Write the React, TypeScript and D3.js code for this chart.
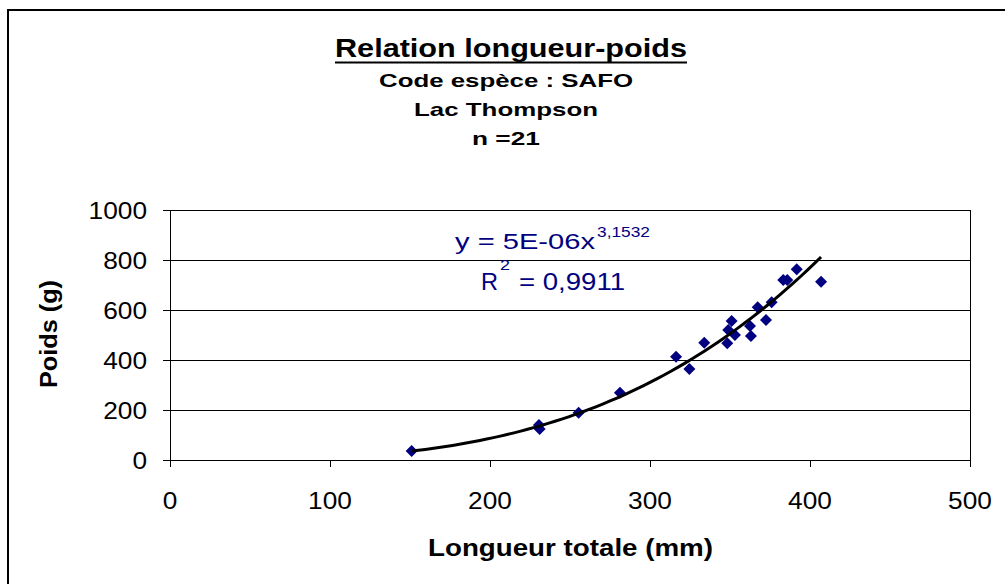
import React from "react";
import * as d3 from "d3";

const lengths = [151, 230.6, 231, 255.4, 281.2, 316.3, 324.6, 333.9, 348.3, 348.9, 351, 353.1, 362.5, 363.1, 367.3, 372.5, 376, 383.3, 385.8, 391.7, 406.9];
const weights = [36, 140, 124, 189, 269, 413, 364, 469, 467, 520, 556, 500, 536, 496, 611, 560, 631, 720, 720, 763, 713];
const xTicks = [0, 100, 200, 300, 400, 500];
const yTicks = [0, 200, 400, 600, 800, 1000];
const trendCoef = 4.8e-6;
const trendExp = 3.1532;
const titleText = "Relation longueur-poids";
const subtitles = ["Code espèce : SAFO", "Lac Thompson", "n =21"];
const xTitle = "Longueur totale (mm)";
const yTitle = "Poids (g)";
const eqMain = "y = 5E-06x";
const eqExp = "3,1532";
const r2Sup = "2";
const r2Rest = "= 0,9911";

const FONT = "'Liberation Sans', Arial, sans-serif";
const NAVY = "#000080";

export default function App() {
  const x = d3.scaleLinear().domain([0, 500]).range([170, 970]);
  const y = d3.scaleLinear().domain([0, 1000]).range([460, 210]);

  const xmin = d3.min(lengths) as number;
  const xmax = d3.max(lengths) as number;
  const trendXs = d3.range(0, 61).map((i) => xmin + ((xmax - xmin) * i) / 60);
  const line = d3
    .line<number>()
    .x((d) => x(d))
    .y((d) => y(trendCoef * Math.pow(d, trendExp)))
    .curve(d3.curveLinear);
  const diamond = d3.symbol().type(d3.symbolSquare).size(72)() as string;

  const subW = [254, 184, 68];
  const subBase = [87, 116, 144.5];

  return (
    <svg
      width={1005}
      height={584}
      style={{ position: "absolute", left: 0, top: 0, background: "#fff" }}
      fontFamily={FONT}
    >
      <rect x={0} y={0} width={1005} height={584} fill="#fff" />
      <rect x={8} y={10} width={1010} height={600} fill="none" stroke="#000" strokeWidth={2} />

      {/* title */}
      <text x={511} y={57} textAnchor="middle" fontSize={26} fontWeight="bold" textLength={352} lengthAdjust="spacingAndGlyphs">
        {titleText}
      </text>
      <line x1={335} x2={687} y1={62.5} y2={62.5} stroke="#000" strokeWidth={2} />
      {subtitles.map((s, i) => (
        <text key={s} x={506} y={subBase[i]} textAnchor="middle" fontSize={19} fontWeight="bold" textLength={subW[i]} lengthAdjust="spacingAndGlyphs">
          {s}
        </text>
      ))}

      {/* gridlines */}
      {yTicks.filter((t) => t > 0).map((t) => (
        <line key={t} x1={x(0)} x2={x(500)} y1={Math.round(y(t)) + 0.5} y2={Math.round(y(t)) + 0.5} stroke="#000" strokeWidth={1} />
      ))}
      {/* right border */}
      <line x1={x(500) + 0.5} x2={x(500) + 0.5} y1={y(1000)} y2={y(0)} stroke="#000" strokeWidth={1} />
      {/* axes */}
      <line x1={x(0) + 0.5} x2={x(0) + 0.5} y1={y(1000)} y2={y(0)} stroke="#000" strokeWidth={1} />
      <line x1={x(0)} x2={x(500) + 1} y1={y(0) + 0.5} y2={y(0) + 0.5} stroke="#000" strokeWidth={1} />
      {yTicks.map((t) => (
        <g key={t}>
          <line x1={x(0) - 7} x2={x(0)} y1={Math.round(y(t)) + 0.5} y2={Math.round(y(t)) + 0.5} stroke="#000" strokeWidth={1} />
          <text x={147} y={y(t) + 8.5} textAnchor="end" fontSize={23.5} textLength={String(t).length * 14.6} lengthAdjust="spacingAndGlyphs">
            {t}
          </text>
        </g>
      ))}
      {xTicks.map((t) => (
        <g key={t}>
          <line x1={Math.round(x(t)) + 0.5} x2={Math.round(x(t)) + 0.5} y1={y(0)} y2={y(0) + 7} stroke="#000" strokeWidth={1} />
          <text x={x(t)} y={509} textAnchor="middle" fontSize={23.5} textLength={String(t).length * 14.6} lengthAdjust="spacingAndGlyphs">
            {t}
          </text>
        </g>
      ))}

      {/* axis titles */}
      <text x={570.5} y={556} textAnchor="middle" fontSize={23} fontWeight="bold" textLength={285} lengthAdjust="spacingAndGlyphs">
        {xTitle}
      </text>
      <text transform="translate(57,334) rotate(-90)" textAnchor="middle" fontSize={23} fontWeight="bold" textLength={108} lengthAdjust="spacingAndGlyphs">
        {yTitle}
      </text>

      {/* points */}
      {lengths.map((l, i) => (
        <path key={i} d={diamond} transform={`translate(${x(l)},${y(weights[i])}) rotate(45)`} fill={NAVY} />
      ))}

      {/* trend line */}
      <path d={line(trendXs) as string} fill="none" stroke="#000" strokeWidth={3} strokeLinejoin="round" />

      {/* equation */}
      <text x={455} y={249} fontSize={22.5} fill={NAVY} textLength={140} lengthAdjust="spacingAndGlyphs">
        {eqMain}
      </text>
      <text x={597} y={237} fontSize={14.5} fill={NAVY} textLength={53} lengthAdjust="spacingAndGlyphs">
        {eqExp}
      </text>
      <text x={481} y={290} fontSize={23} fill={NAVY} textLength={17} lengthAdjust="spacingAndGlyphs">
        R
      </text>
      <text x={500} y={270} fontSize={14.5} fill={NAVY} textLength={10} lengthAdjust="spacingAndGlyphs">
        {r2Sup}
      </text>
      <text x={519} y={290} fontSize={23} fill={NAVY} textLength={106} lengthAdjust="spacingAndGlyphs">
        {r2Rest}
      </text>
    </svg>
  );
}
